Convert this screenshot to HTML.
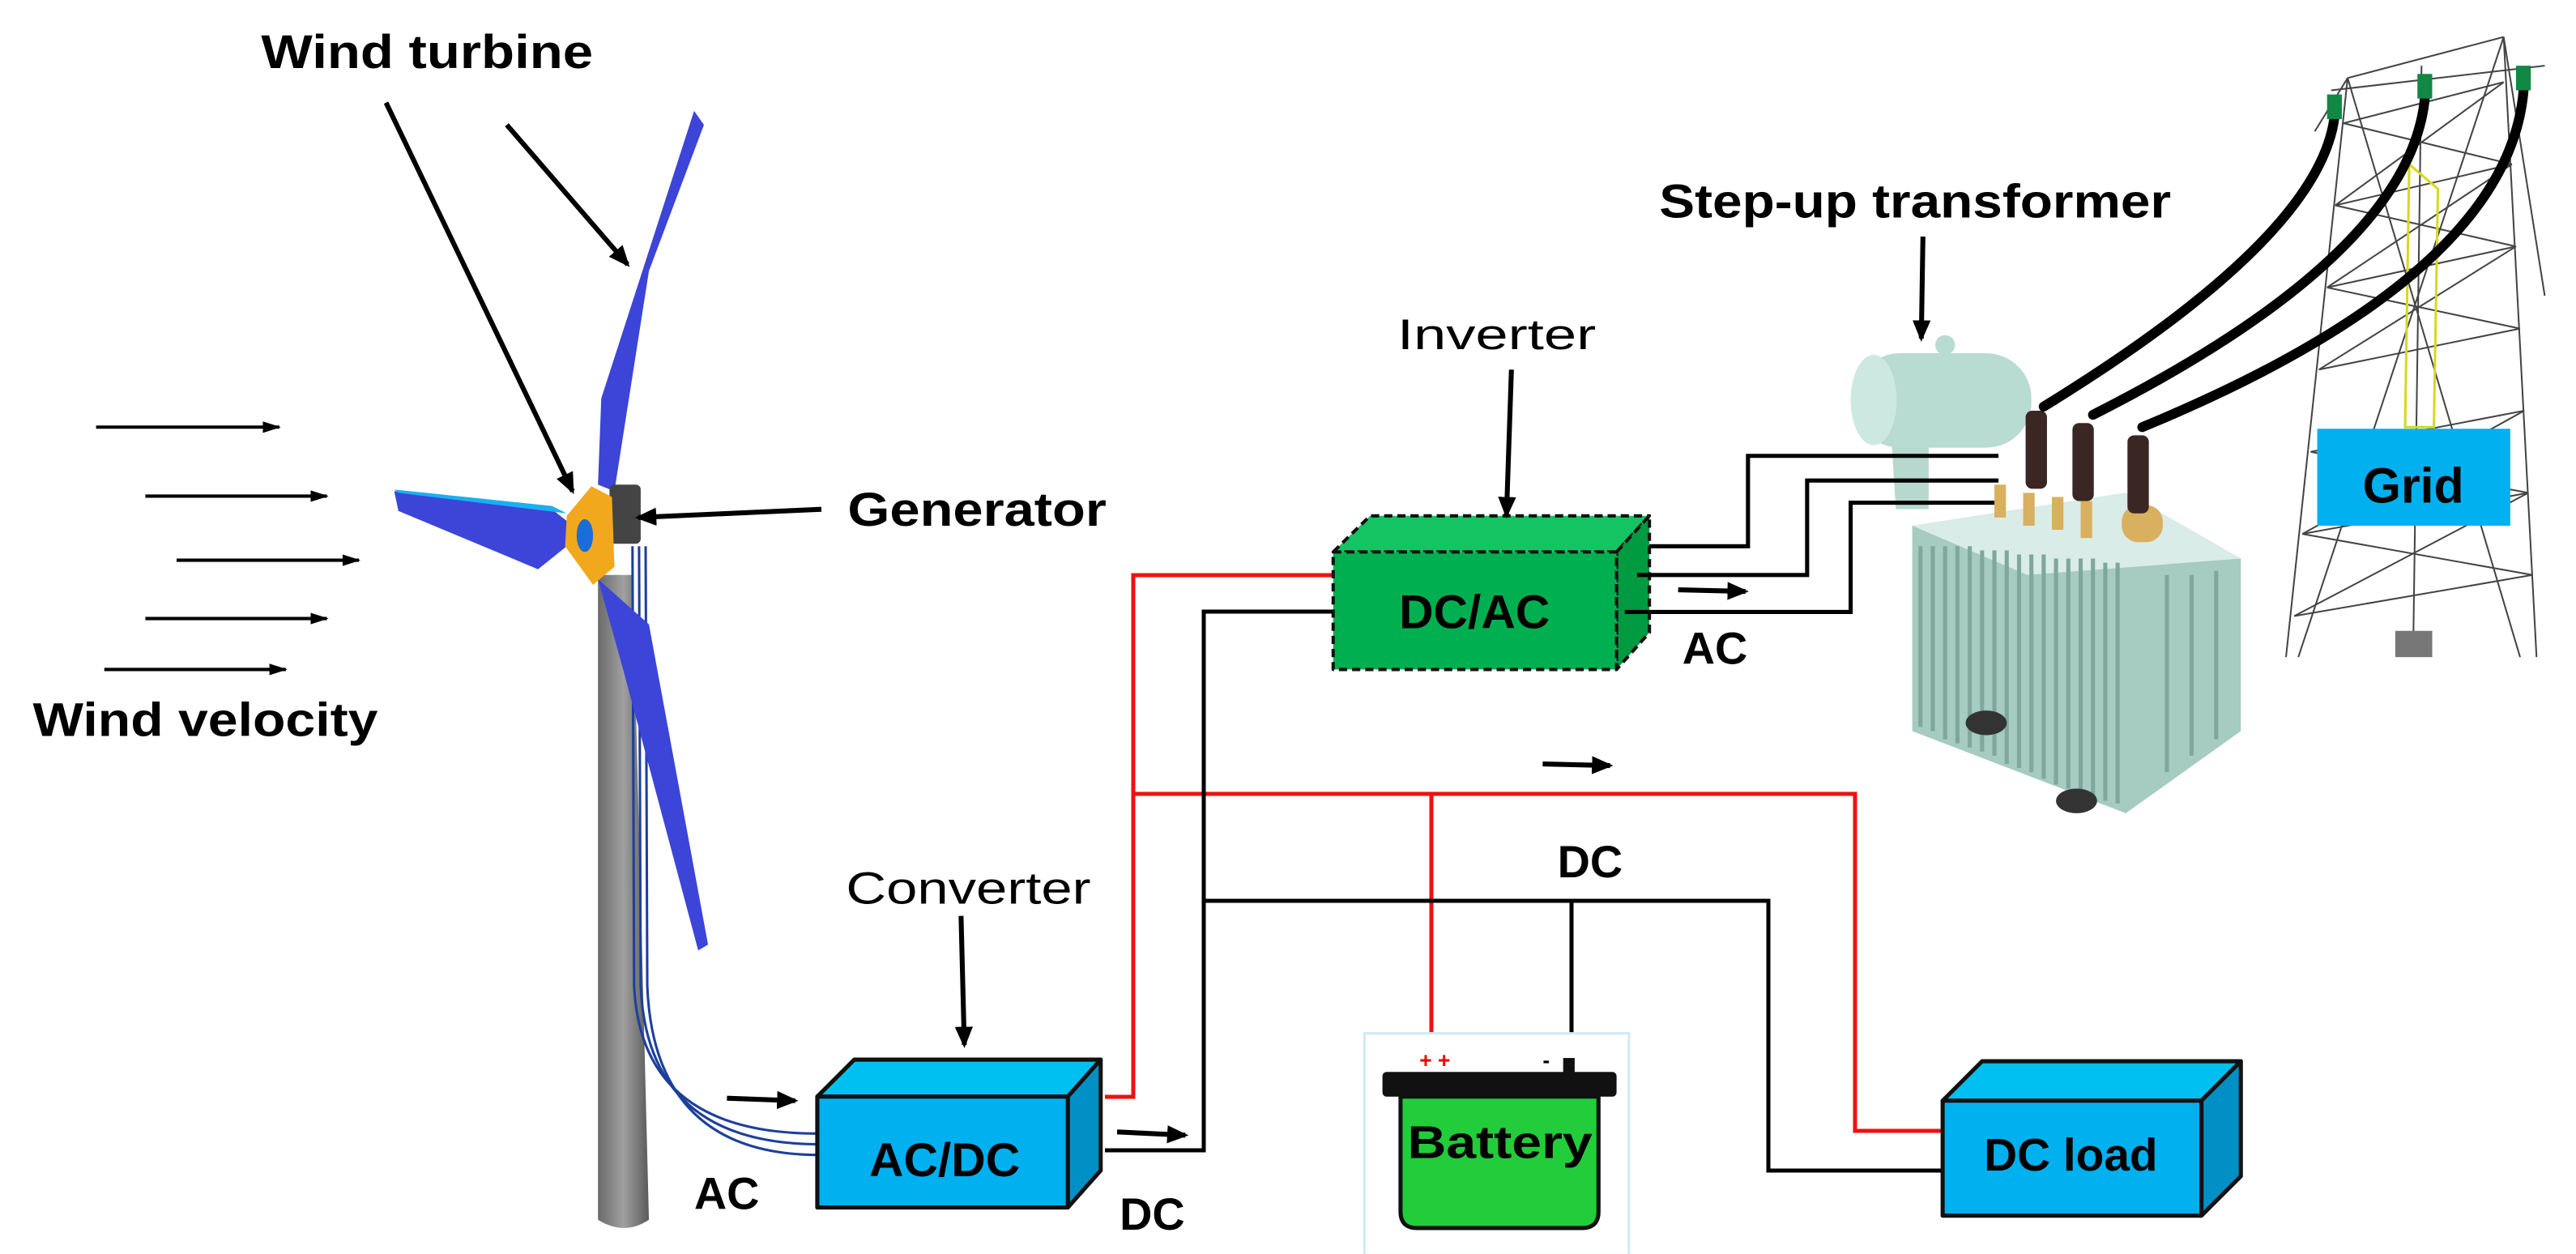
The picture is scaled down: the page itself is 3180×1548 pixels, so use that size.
<!DOCTYPE html>
<html><head><meta charset="utf-8"><style>
html,body{margin:0;padding:0;background:#fff}
svg{display:block}
text{font-family:"Liberation Sans",sans-serif}
</style></head><body>
<svg width="3180" height="1548" viewBox="0 0 3180 1548" xmlns="http://www.w3.org/2000/svg">
<defs>
<marker id="ahb" markerWidth="26" markerHeight="26" refX="22" refY="13" orient="auto" markerUnits="userSpaceOnUse" viewBox="0 0 26 26">
<path d="M0,2 L26,13 L0,24 z" fill="#000"/></marker>
<marker id="ahs" markerWidth="22" markerHeight="20" refX="20" refY="10" orient="auto" markerUnits="userSpaceOnUse" viewBox="0 0 22 20">
<path d="M0,3 L22,10 L0,17 z" fill="#000"/></marker>
<linearGradient id="tw" x1="0" x2="1"><stop offset="0" stop-color="#6a6a6a"/><stop offset="0.5" stop-color="#a0a0a0"/><stop offset="1" stop-color="#5a5a5a"/></linearGradient>
</defs>
<g transform="scale(1.014)">
<g stroke="#000" stroke-width="4" fill="none" marker-end="url(#ahs)">
<line x1="117" y1="520" x2="340" y2="520"/><line x1="177" y1="604" x2="398" y2="604"/>
<line x1="215" y1="682" x2="437" y2="682"/><line x1="177" y1="753" x2="398" y2="753"/>
<line x1="127" y1="815" x2="348" y2="815"/>
</g>
<text x="40" y="896" font-size="58" font-weight="bold" textLength="420" lengthAdjust="spacingAndGlyphs">Wind velocity</text>
<text x="318" y="83" font-size="58" font-weight="bold" textLength="404" lengthAdjust="spacingAndGlyphs">Wind turbine</text>
<path d="M728,700 L770,700 L790,1485 Q760,1505 728,1485 Z" fill="url(#tw)"/>
<g stroke="#1d3f9c" stroke-width="3" fill="none">
<path d="M770,665 L772,1200 Q780,1380 995,1380"/>
<path d="M778,665 L780,1200 Q788,1392 995,1393"/>
<path d="M786,665 L788,1200 Q796,1405 995,1406"/>
</g>
<g fill="#3c45d8">
<path d="M728,590 L732,485 L845,135 L857,152 L790,330 L748,598 Z"/>
<path d="M480,598 L672,620 L700,642 L690,665 L655,693 L485,622 Z"/>
<path d="M728,705 L790,760 L862,1150 L850,1157 L760,820 Z"/>
</g>
<path d="M480,596 L672,616 L690,625 L485,600 Z" fill="#1ab0f0"/>
<rect x="742" y="590" width="38" height="72" rx="6" fill="#444"/>
<path d="M690,628 L720,592 L745,605 L748,690 L722,712 L688,665 Z" fill="#f2a81c"/>
<ellipse cx="712" cy="652" rx="10" ry="20" fill="#1a6cd8"/>
<g stroke="#000" stroke-width="6" fill="none" marker-end="url(#ahb)">
<line x1="470" y1="125" x2="697" y2="598"/>
<line x1="617" y1="152" x2="764" y2="322"/>
<line x1="1000" y1="620" x2="777" y2="630"/>
<line x1="1170" y1="1115" x2="1174" y2="1272"/>
<line x1="885" y1="1337" x2="968" y2="1340"/>
<line x1="1360" y1="1378" x2="1443" y2="1382"/>
</g>
<text x="1032" y="640" font-size="58" font-weight="bold" textLength="315" lengthAdjust="spacingAndGlyphs">Generator</text>
<text x="1030" y="1100" font-size="55" textLength="298" lengthAdjust="spacingAndGlyphs">Converter</text>
<g stroke="#111" stroke-width="5" stroke-linejoin="round">
<path d="M995,1335 L1040,1290 L1340,1290 L1300,1335 Z" fill="#00c0f2"/>
<path d="M1300,1335 L1340,1290 L1340,1425 L1300,1470 Z" fill="#0090c6"/>
<rect x="995" y="1335" width="305" height="135" fill="#00b0ef"/>
</g>
<text x="1150" y="1432" font-size="58" font-weight="bold" text-anchor="middle">AC/DC</text>
<text x="845" y="1472" font-size="55" font-weight="bold">AC</text>
<text x="1363" y="1497" font-size="55" font-weight="bold">DC</text>
</g>
<g fill="none" stroke-width="5">
<path d="M1364,1354 L1399,1354 L1399,710 L1646,710" stroke="#ee1111"/>
<path d="M1399,980 L2290,980 L2290,1396 L2398,1396" stroke="#ee1111"/>
<path d="M1767,980 L1767,1313" stroke="#ee1111"/>
<path d="M1364,1420 L1486,1420 L1486,755 L1646,755" stroke="#000"/>
<path d="M1486,1112 L2183,1112 L2183,1445 L2398,1445" stroke="#000"/>
<path d="M1940,1112 L1940,1318" stroke="#000"/>
</g>
<g transform="translate(1590,0) scale(1.014)">
<g stroke="#111" stroke-width="4" stroke-dasharray="10,6" stroke-linejoin="round">
<path d="M55,672 L100,628 L440,628 L400,672 Z" fill="#14c462"/>
<path d="M400,672 L440,628 L440,770 L400,815 Z" fill="#009a40"/>
<rect x="55" y="672" width="345" height="143" fill="#00b050"/>
</g>
<text x="227" y="765" font-size="58" font-weight="bold" text-anchor="middle">DC/AC</text>
<text x="133" y="425" font-size="52" textLength="242" lengthAdjust="spacingAndGlyphs">Inverter</text>
<text x="452" y="265" font-size="58" font-weight="bold" textLength="623" lengthAdjust="spacingAndGlyphs">Step-up transformer</text>
<g stroke="#000" stroke-width="6" fill="none" marker-end="url(#ahb)">
<line x1="272" y1="450" x2="266" y2="627"/>
<line x1="773" y1="288" x2="771" y2="412"/>
<line x1="475" y1="718" x2="557" y2="720"/>
<line x1="310" y1="930" x2="392" y2="932"/>
</g>
<text x="480" y="808" font-size="55" font-weight="bold">AC</text>
<text x="328" y="1068" font-size="55" font-weight="bold">DC</text>
<g stroke="#444" stroke-width="2" fill="none">
<path d="M1290,95 L1215,800 M1480,45 L1520,800 M1290,95 L1480,45 M1270,110 L1530,80"/>
<path d="M1290,95 L1500,800 M1480,45 L1230,800 M1285,150 L1480,100 M1275,250 L1490,200 M1265,350 L1495,300 M1255,450 L1500,400 M1245,550 L1505,500 M1235,650 L1510,600 M1225,750 L1515,700"/>
<path d="M1285,150 L1490,200 M1480,100 L1275,250 M1275,250 L1495,300 M1490,200 L1265,350 M1265,350 L1500,400 M1495,300 L1255,450 M1245,550 L1510,600 M1505,500 L1235,650 M1235,650 L1515,700 M1510,600 L1225,750"/>
<path d="M1380,80 L1370,780 M1480,45 L1530,360 M1290,95 L1250,160"/>
</g>
<path d="M1365,200 L1400,230 L1395,520 L1360,520 Z" fill="none" stroke="#d8d820" stroke-width="3"/>
<rect x="1348" y="768" width="45" height="32" fill="#777"/>
<rect x="1253" y="522" width="235" height="118" fill="#00b0ef"/>
<text x="1370" y="612" font-size="60" font-weight="bold" text-anchor="middle">Grid</text>
<path d="M735,540 L780,520 L780,620 L740,620 Z" fill="#b7d8cf"/>
<rect x="690" y="430" width="215" height="115" rx="55" fill="#b8dbd2"/>
<ellipse cx="713" cy="487" rx="28" ry="55" fill="#cde8e1"/>
<circle cx="800" cy="420" r="12" fill="#b8dbd2"/>
<path d="M760,640 L1020,600 L1160,680 L1160,890 L1020,990 L760,890 Z" fill="#a6cbc1"/>
<path d="M760,640 L1020,600 L1160,680 L900,700 Z" fill="#d9ece7"/>
<g stroke="#7fa79c" stroke-width="5">
<line x1="770" y1="665" x2="770" y2="885"/><line x1="785" y1="665" x2="785" y2="890"/><line x1="800" y1="665" x2="800" y2="900"/><line x1="815" y1="665" x2="815" y2="905"/><line x1="830" y1="665" x2="830" y2="910"/><line x1="845" y1="670" x2="845" y2="915"/><line x1="860" y1="670" x2="860" y2="920"/><line x1="875" y1="670" x2="875" y2="930"/><line x1="890" y1="675" x2="890" y2="935"/><line x1="905" y1="675" x2="905" y2="940"/><line x1="920" y1="675" x2="920" y2="948"/><line x1="935" y1="680" x2="935" y2="955"/><line x1="950" y1="680" x2="950" y2="960"/><line x1="965" y1="680" x2="965" y2="965"/><line x1="980" y1="680" x2="980" y2="970"/><line x1="995" y1="685" x2="995" y2="975"/><line x1="1010" y1="685" x2="1010" y2="978"/>
<line x1="1070" y1="700" x2="1070" y2="940"/><line x1="1100" y1="700" x2="1100" y2="920"/><line x1="1130" y1="695" x2="1130" y2="900"/>
</g>
<ellipse cx="850" cy="880" rx="25" ry="15" fill="#333"/><ellipse cx="960" cy="975" rx="25" ry="15" fill="#333"/>
<g fill="#d8b060"><rect x="860" y="590" width="14" height="40"/><rect x="895" y="600" width="14" height="40"/><rect x="930" y="605" width="14" height="40"/><rect x="965" y="610" width="14" height="45"/><rect x="1015" y="615" width="50" height="45" rx="20"/></g>
<g fill="#3a2622"><rect x="898" y="500" width="26" height="95" rx="8"/><rect x="955" y="515" width="26" height="95" rx="8"/><rect x="1022" y="530" width="26" height="95" rx="8"/></g>
<g fill="none" stroke="#000" stroke-width="5">
<path d="M440,665 L560,665 L560,555 L865,555"/>
<path d="M425,700 L632,700 L632,585 L865,585"/>
<path d="M410,745 L685,745 L685,612 L860,612"/>
</g>
<g fill="none" stroke="#000" stroke-width="12" stroke-linecap="round">
<path d="M920,495 Q1270,280 1275,130"/>
<path d="M980,505 Q1385,300 1385,100"/>
<path d="M1040,520 Q1500,330 1505,95"/>
</g>
<g fill="#184"><rect x="1265" y="115" width="18" height="30"/><rect x="1375" y="90" width="18" height="30"/><rect x="1495" y="80" width="18" height="30"/></g>
<rect x="93" y="1258" width="322" height="270" fill="#fff" stroke="#cfeaf8" stroke-width="3"/>
<path d="M137,1335 L378,1335 L378,1475 Q378,1495 358,1495 L157,1495 Q137,1495 137,1475 Z" fill="#22cc3a" stroke="#111" stroke-width="5"/>
<rect x="115" y="1305" width="285" height="30" rx="5" fill="#111"/>
<rect x="335" y="1288" width="14" height="18" fill="#111"/>
<text x="160" y="1300" font-size="26" fill="#e00" font-weight="bold">+ +</text>
<text x="310" y="1300" font-size="26" font-weight="bold">-</text>
<text x="258" y="1410" font-size="56" font-weight="bold" text-anchor="middle" textLength="225" lengthAdjust="spacingAndGlyphs">Battery</text>
<g stroke="#111" stroke-width="5" stroke-linejoin="round">
<path d="M797,1340 L845,1292 L1160,1292 L1112,1340 Z" fill="#00c0f2"/>
<path d="M1112,1340 L1160,1292 L1160,1432 L1112,1480 Z" fill="#0090c6"/>
<rect x="797" y="1340" width="315" height="140" fill="#00b0ef"/>
</g>
<text x="953" y="1425" font-size="56" font-weight="bold" text-anchor="middle">DC load</text>
</g>
</svg>
</body></html>
